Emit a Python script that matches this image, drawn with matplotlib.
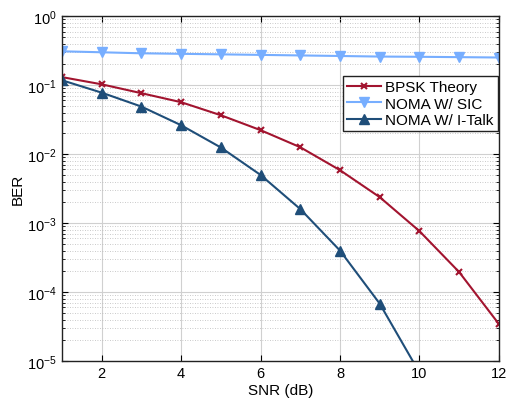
import numpy as np
import matplotlib.pyplot as plt
from matplotlib.ticker import LogLocator, NullFormatter

plt.rcParams['font.family'] = ['Liberation Sans', 'DejaVu Sans']

snr = [1, 2, 3, 4, 5, 6, 7, 8, 9, 10, 11, 12]
ber_bpsk = [0.131, 0.103, 0.0766, 0.0567, 0.0367, 0.0223, 0.0126,
            0.00586, 0.00238, 7.66e-4, 1.95e-4, 3.44e-5]
ber_sic = [0.31, 0.30, 0.29, 0.285, 0.28, 0.275, 0.27, 0.265,
           0.26, 0.258, 0.255, 0.252]
snr_italk = [1, 2, 3, 4, 5, 6, 7, 8, 9, 10]
ber_italk = [0.118, 0.078, 0.049, 0.0263, 0.0125, 0.0050, 0.0016,
             4.0e-4, 6.8e-5, 6.8e-6]

fig = plt.figure(figsize=(5.07, 4.10), dpi=100)
ax = fig.add_axes([0.122, 0.117, 0.862, 0.841])

ax.semilogy(snr, ber_bpsk, '-x', color='#A2142F', lw=1.5, ms=5, mew=1.5,
            label='BPSK Theory')
ax.semilogy(snr, ber_sic, '-v', color='#77AEFF', lw=1.5, ms=7,
            label='NOMA W/ SIC')
ax.semilogy(snr_italk, ber_italk, '-^', color='#1F4E79', lw=1.5, ms=7,
            label='NOMA W/ I-Talk')

ax.set_xlim(1, 12)
ax.set_ylim(1e-5, 1)
ax.set_xticks([2, 4, 6, 8, 10, 12])
ax.yaxis.set_major_locator(LogLocator(base=10, numticks=10))
ax.yaxis.set_minor_locator(LogLocator(base=10, subs=np.arange(2, 10), numticks=100))
ax.yaxis.set_minor_formatter(NullFormatter())

ax.grid(True, which='major', color='#d0d0d0', lw=0.8)
ax.grid(True, which='minor', axis='y', color='#b8b8b8', lw=0.6, ls=(0, (1, 2)))
ax.set_axisbelow(True)
ax.tick_params(which='both', direction='in', top=True, right=True, labelsize=10.5)
ax.tick_params(which='major', length=4)
ax.tick_params(which='minor', length=2)
for s in ax.spines.values():
    s.set_linewidth(1.0)
    s.set_color('#222222')

ax.set_xlabel('SNR (dB)', fontsize=11, labelpad=2)
ax.set_ylabel('BER', fontsize=11, labelpad=2)

leg = ax.legend(loc='lower right', bbox_to_anchor=(0.997, 0.668), fontsize=11,
                fancybox=False, framealpha=1, edgecolor='#222222',
                borderpad=0.25, handlelength=2.2, labelspacing=0.15,
                handletextpad=0.3, borderaxespad=0)
leg.get_frame().set_linewidth(1.0)

plt.savefig('out.png', dpi=100)
